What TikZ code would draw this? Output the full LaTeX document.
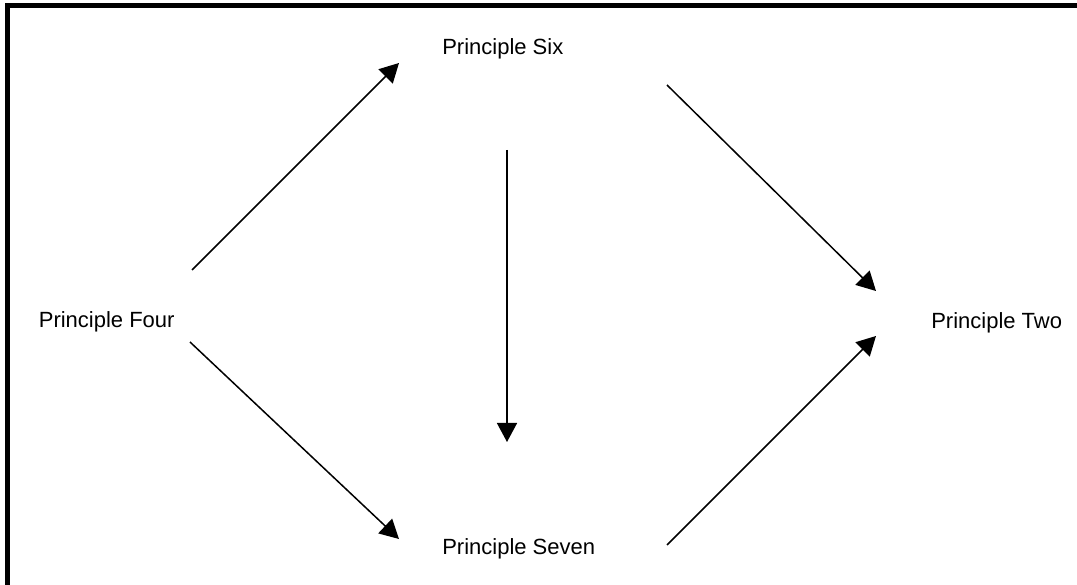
\documentclass[tikz,border=0pt]{standalone}
\usepackage{fontspec}
\setmainfont{Liberation Sans}
\usetikzlibrary{arrows.meta}
\begin{document}
\begin{tikzpicture}[x=1pt,y=-1pt,
  lbl/.style={font=\fontsize{22}{25}\selectfont, inner sep=0pt, anchor=base},
  conn/.style={line width=1.5pt, -{Triangle[length=19pt,width=20pt]}}]
\useasboundingbox (0,0) rectangle (1077,585);
\fill[black] (4.5,3) rectangle (10,585);
\fill[black] (4.5,3) rectangle (1077,8.5);
\node[lbl] (six) at (502.8,55) {Principle Six};
\node[lbl] (four) at (106.7,327.3) {Principle Four};
\node[lbl] (two) at (996.7,328.3) {Principle Two};
\node[lbl] (seven) at (518.7,554) {Principle Seven};
\coordinate (a1s) at (192,270); \coordinate (a1e) at (399,63);
\coordinate (a2s) at (667,85); \coordinate (a2e) at (876,291);
\coordinate (a3s) at (507,150); \coordinate (a3e) at (507,442);
\coordinate (a4s) at (190,342); \coordinate (a4e) at (399,539);
\coordinate (a5s) at (667,545); \coordinate (a5e) at (876,336);
\draw[conn] (a1s) -- (a1e);
\draw[conn] (a2s) -- (a2e);
\draw[conn] (a3s) -- (a3e);
\draw[conn] (a4s) -- (a4e);
\draw[conn] (a5s) -- (a5e);
\end{tikzpicture}
\end{document}
